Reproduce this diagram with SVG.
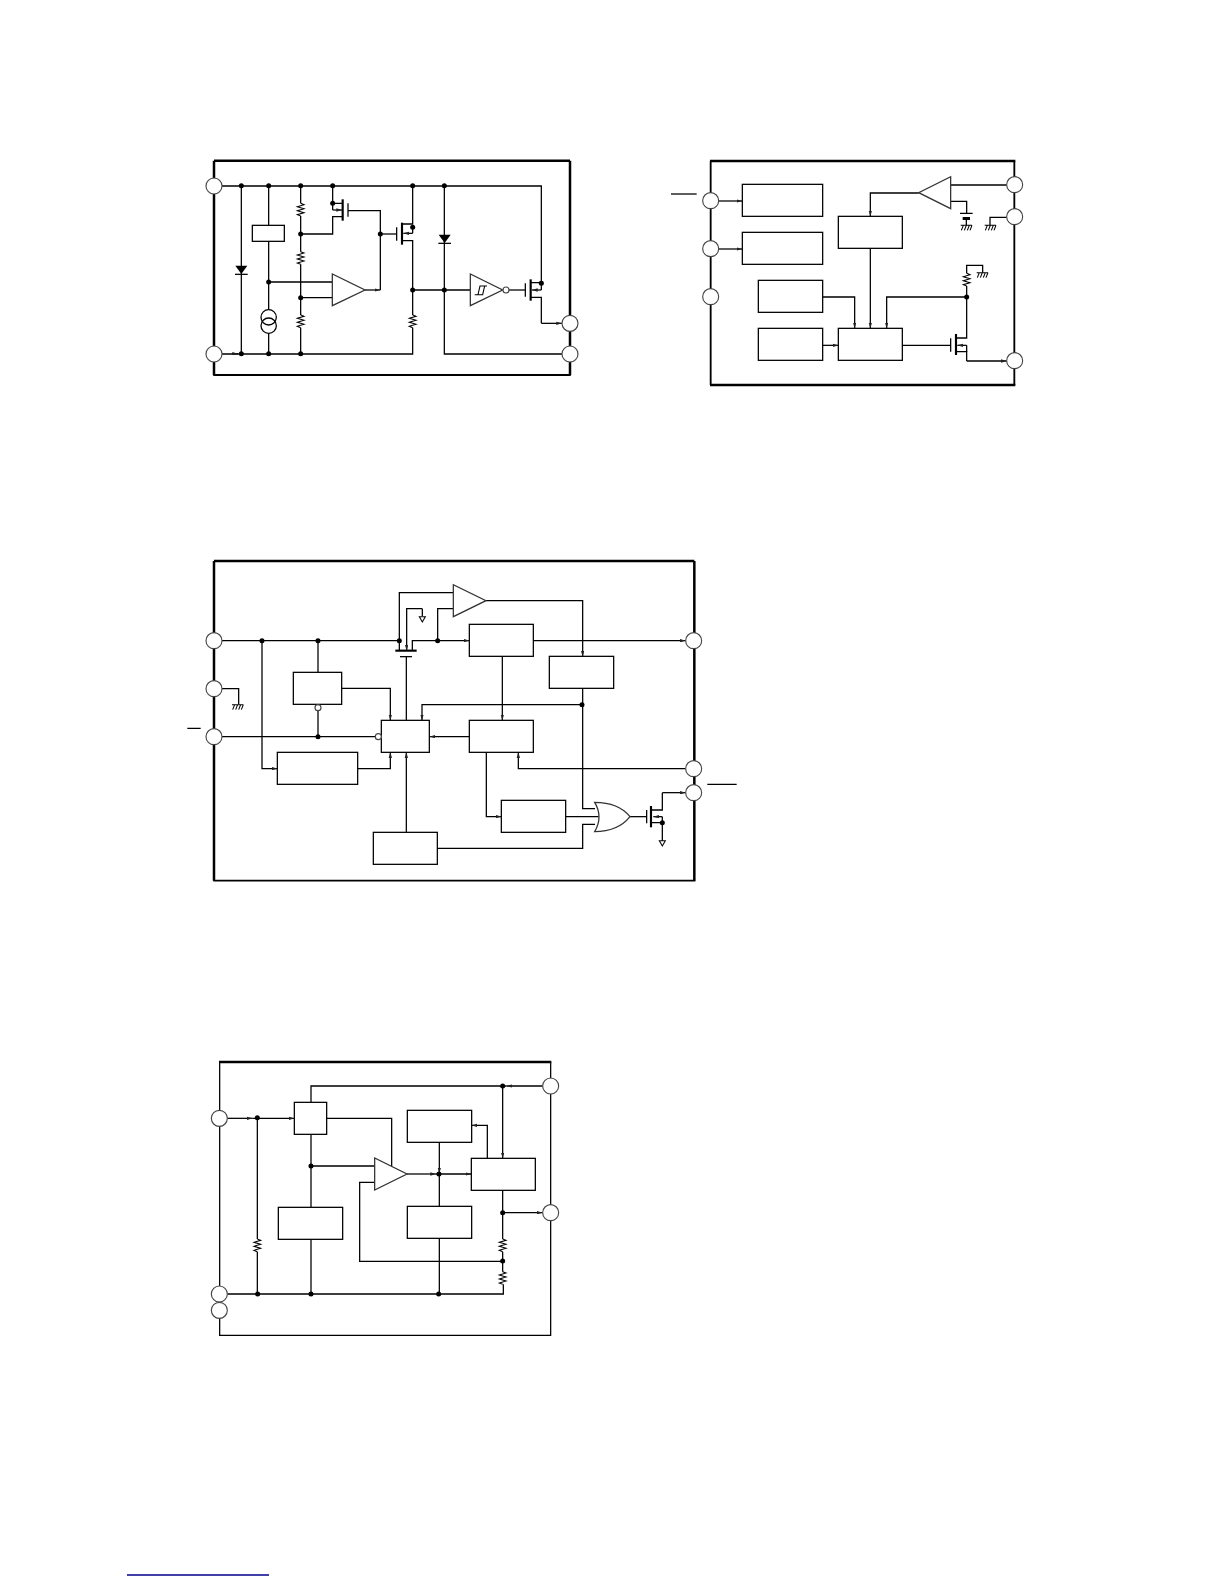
<svg xmlns="http://www.w3.org/2000/svg" width="1224" height="1584" viewBox="0 0 1224 1584">
<style>
.w{fill:none;stroke:#000;stroke-width:3.8;stroke-linejoin:miter}
.a{fill:none;stroke:#000;stroke-width:3.8;marker-end:url(#ah)}
.fr{fill:none;stroke:#000;stroke-width:5.5}
.t{fill:none;stroke:#000;stroke-width:7.5}
.b{fill:#fff;stroke:#000;stroke-width:3.8}
.amp{fill:#fff;stroke:#333;stroke-width:3.8}
.pin{fill:#fff;stroke:#444;stroke-width:3.4}
.d{fill:#000;stroke:none}
.th{fill:none;stroke:#000;stroke-width:6.5}
.r{fill:none;stroke:#000;stroke-width:3.2}
</style>
<defs>
<marker id="ah" viewBox="0 0 17 11" markerWidth="17" markerHeight="11" refX="17" refY="5.5" orient="auto" markerUnits="userSpaceOnUse"><path d="M0,0.5L17,5.5L0,10.5Z" fill="#222"/></marker>
<g id="res"><path class="r" d="M0,0L10,4L-10,10L10,16L-10,22L10,28L-10,34L0,38"/></g>
<g id="gnd"><path class="r" d="M-17,0H17M-15,15L-9,0M-6,15L0,0M3,15L9,0M11,15L17,0"/></g>
<g id="dgnd"><path class="r" d="M-9,0H9L0,16Z"/></g>
</defs>

<g id="diagram-1" transform="translate(200 150) scale(.33333)">
<g id="connectors-1">
<path class="w" d="M66,108H1024V400"/>
<path class="w" d="M66,612H638V533M638,495V272H606"/>
<path class="a" d="M96,611H114"/>
<path class="w" d="M124,108V612"/>
<path class="w" d="M206,108V226M206,274V480M206,550V612M206,396H397"/>
<path class="w" d="M302,108V160M302,198V305M302,343V495M302,533V612M302,252H398V200H428M302,443H397"/>
<path class="w" d="M398,108V160H428M398,160V180"/>
<path class="a" d="M398,180H426"/>
<path class="w" d="M444,182H541V420"/>
<path class="a" d="M495,420H541"/>
<path class="w" d="M541,252H590"/>
<path class="w" d="M638,108V222H606"/>
<path class="w" d="M638,232V250"/>
<path class="a" d="M638,250H610"/>
<path class="w" d="M638,420H810"/>
<path class="w" d="M733,108V612H1086"/>
<path class="w" d="M927,420H976"/>
<path class="w" d="M992,398H1024M1024,400V420"/>
<path class="a" d="M1024,420H996"/>
<path class="w" d="M992,442H1024V520"/>
<path class="a" d="M1024,520H1086"/>
</g>
<g id="frame-1"><path class="t" d="M42,32H1110M42,32V676M1110,32V676"/><path class="fr" d="M40,675H1112"/></g>
<g id="pin-1a"><circle class="pin" cx="42" cy="108" r="24"/></g>
<g id="pin-1b"><circle class="pin" cx="42" cy="612" r="24"/></g>
<g id="pin-1c"><circle class="pin" cx="1110" cy="520" r="24"/></g>
<g id="pin-1d"><circle class="pin" cx="1110" cy="612" r="24"/></g>
<g id="diode-1a"><path class="d" d="M106,347H142L124,372Z"/><path class="w" d="M105,373H143"/></g>
<g id="diode-1b"><path class="d" d="M716,254H752L734,279Z"/><path class="w" d="M715,280H753"/></g>
<g id="box-1"><rect class="b" x="157" y="226" width="96" height="48"/></g>
<g id="current-source"><circle class="w" cx="206" cy="502" r="23"/><circle class="w" cx="206" cy="527" r="23"/></g>
<g id="res-1a"><use href="#res" x="302" y="160"/></g>
<g id="res-1b"><use href="#res" x="302" y="305"/></g>
<g id="res-1c"><use href="#res" x="302" y="495"/></g>
<g id="res-1d"><use href="#res" x="638" y="495"/></g>
<g id="fet-1a"><path class="th" d="M428,148V212"/><path class="w" d="M444,160V200"/></g>
<g id="fet-1b"><path class="th" d="M606,218V284"/><path class="w" d="M590,232V272"/></g>
<g id="fet-1c"><path class="th" d="M992,388V452"/><path class="w" d="M976,400V440"/></g>
<g id="amp-1"><path class="amp" d="M397,372V467L495,420Z"/></g>
<g id="inverter-1"><path class="amp" d="M811,372V467L908,420Z"/><path class="r" d="M824,434H848L854,408H861M834,434L840,408H854"/><circle class="pin" cx="918" cy="420" r="9"/></g>
<g id="dots-1" class="d">
<circle cx="124" cy="107" r="7.5"/><circle cx="206" cy="107" r="7.5"/><circle cx="302" cy="107" r="7.5"/><circle cx="398" cy="107" r="7.5"/><circle cx="638" cy="107" r="7.5"/><circle cx="733" cy="107" r="7.5"/>
<circle cx="398" cy="160" r="7.5"/><circle cx="302" cy="252" r="7.5"/><circle cx="541" cy="252" r="7.5"/><circle cx="638" cy="232" r="7.5"/>
<circle cx="206" cy="396" r="7.5"/><circle cx="302" cy="443" r="7.5"/><circle cx="638" cy="420" r="7.5"/><circle cx="733" cy="420" r="7.5"/><circle cx="1024" cy="400" r="7.5"/>
<circle cx="124" cy="611" r="7.5"/><circle cx="206" cy="611" r="7.5"/><circle cx="302" cy="611" r="7.5"/>
</g>
</g>

<g id="diagram-2" transform="translate(660 150) scale(.33333)">
<g id="connectors-2">
<path class="w" d="M33,132H110"/>
<path class="a" d="M176,153H247"/>
<path class="a" d="M176,297H247"/>
<path class="a" d="M488,441H584V535"/>
<path class="a" d="M631,295V535"/>
<path class="a" d="M920,441H680V535"/>
<path class="a" d="M488,586H535"/>
<path class="w" d="M727,586H872"/>
<path class="w" d="M888,564H920V408M920,370V346H968V368"/>
<path class="w" d="M920,586V605"/>
<path class="a" d="M920,586H892"/>
<path class="w" d="M888,605H920V633"/>
<path class="a" d="M920,633H1040"/>
<path class="w" d="M872,105H1040"/>
<path class="a" d="M776,129H631V199"/>
<path class="w" d="M872,154H920V190M900,190H938M919,208V226"/>
<path class="w" d="M1040,202H990V226"/>
</g>
<g id="frame-2"><path class="t" d="M150,33H1066M150,705H1066"/><path class="fr" d="M152,33V705M1063,33V705"/></g>
<g id="pin-2a"><circle class="pin" cx="152" cy="152" r="24"/></g>
<g id="pin-2b"><circle class="pin" cx="152" cy="296" r="24"/></g>
<g id="pin-2c"><circle class="pin" cx="152" cy="440" r="24"/></g>
<g id="pin-2d"><circle class="pin" cx="1064" cy="104" r="24"/></g>
<g id="pin-2e"><circle class="pin" cx="1064" cy="200" r="24"/></g>
<g id="pin-2f"><circle class="pin" cx="1064" cy="632" r="24"/></g>
<g id="box-2a"><rect class="b" x="247" y="103" width="241" height="96"/></g>
<g id="box-2b"><rect class="b" x="247" y="247" width="241" height="96"/></g>
<g id="box-2c"><rect class="b" x="295" y="391" width="193" height="96"/></g>
<g id="box-2d"><rect class="b" x="295" y="535" width="193" height="96"/></g>
<g id="box-2e"><rect class="b" x="535" y="199" width="192" height="96"/></g>
<g id="box-2f"><rect class="b" x="535" y="535" width="192" height="96"/></g>
<g id="amp-2"><path class="amp" d="M872,80V176L776,128Z"/></g>
<g id="cap-2"><rect class="d" x="908" y="201" width="22" height="9"/><use href="#gnd" x="919" y="226"/></g>
<g id="gnd-2a"><use href="#gnd" x="991" y="226"/></g>
<g id="gnd-2b"><use href="#gnd" x="967" y="368"/></g>
<g id="res-2"><use href="#res" x="920" y="370"/></g>
<g id="fet-2"><path class="th" d="M888,552V615"/><path class="w" d="M872,565V605"/></g>
<g id="dots-2" class="d"><circle cx="920" cy="441" r="7.5"/></g>
</g>

<g id="diagram-3" transform="translate(180 550) scale(.33333)">
<g id="connectors-3">
<path class="w" d="M22,535H62M1582,703H1670"/>
<path class="w" d="M126,272H658V302M658,272V128H820"/>
<path class="a" d="M727,176H680V302"/>
<path class="w" d="M727,176V198"/>
<path class="a" d="M697,302V272H868"/>
<path class="w" d="M773,272V176H820"/>
<path class="a" d="M918,152H1208V320"/>
<path class="a" d="M1060,272H1517"/>
<path class="a" d="M1206,464H726V511"/>
<path class="w" d="M1208,415V776H1245"/>
<path class="a" d="M967,319V511"/>
<path class="a" d="M868,560H749"/>
<path class="a" d="M1517,656H1015V607"/>
<path class="a" d="M919,607V800H964"/>
<path class="w" d="M1157,800H1256"/>
<path class="w" d="M1350,800H1400"/>
<path class="w" d="M1413,780H1447V728"/>
<path class="a" d="M1447,728H1517"/>
<path class="a" d="M1447,800H1420"/>
<path class="w" d="M1447,800V872M1413,818H1447"/>
<path class="w" d="M126,560H586"/>
<path class="w" d="M414,272V367M414,482V560"/>
<path class="a" d="M246,272V656H292"/>
<path class="a" d="M533,656H631V607"/>
<path class="a" d="M485,415H631V511"/>
<path class="w" d="M679,320V511"/>
<path class="a" d="M679,847V607"/>
<path class="w" d="M772,895H1208V823H1245"/>
<path class="w" d="M126,416H176V463"/>
</g>
<g id="frame-3"><path class="t" d="M102,33H1543M102,33V992M1543,33V992"/><path class="fr" d="M100,992H1546"/></g>
<g id="pin-3a"><circle class="pin" cx="102" cy="272" r="24"/></g>
<g id="pin-3b"><circle class="pin" cx="102" cy="416" r="24"/></g>
<g id="pin-3c"><circle class="pin" cx="102" cy="560" r="24"/></g>
<g id="pin-3d"><circle class="pin" cx="1541" cy="272" r="24"/></g>
<g id="pin-3e"><circle class="pin" cx="1541" cy="656" r="24"/></g>
<g id="pin-3f"><circle class="pin" cx="1541" cy="728" r="24"/></g>
<g id="box-3a"><rect class="b" x="340" y="367" width="145" height="96"/><circle class="pin" cx="414" cy="473" r="9"/></g>
<g id="box-3b"><rect class="b" x="292" y="607" width="241" height="96"/></g>
<g id="box-3c"><rect class="b" x="604" y="511" width="144" height="96"/><circle class="pin" cx="595" cy="560" r="9"/></g>
<g id="box-3d"><rect class="b" x="580" y="847" width="192" height="96"/></g>
<g id="box-3e"><rect class="b" x="868" y="223" width="192" height="96"/></g>
<g id="box-3f"><rect class="b" x="1108" y="319" width="193" height="96"/></g>
<g id="box-3g"><rect class="b" x="868" y="511" width="192" height="96"/></g>
<g id="box-3h"><rect class="b" x="964" y="751" width="193" height="96"/></g>
<g id="amp-3"><path class="amp" d="M820,104V200L918,152Z"/></g>
<g id="or-3"><path class="amp" d="M1244,757Q1270,800 1244,845C1300,845 1330,825 1350,800C1330,775 1300,757 1244,757Z"/></g>
<g id="pass-fet"><path class="th" d="M646,302H710"/><path class="w" d="M660,320H696"/></g>
<g id="fet-3"><path class="th" d="M1413,768V832"/><path class="w" d="M1400,780V820"/></g>
<g id="gnd-3a"><use href="#gnd" x="173" y="464"/></g>
<g id="gnd-3b"><use href="#dgnd" x="727" y="200"/></g>
<g id="gnd-3c"><use href="#dgnd" x="1447" y="872"/></g>
<g id="dots-3" class="d">
<circle cx="246" cy="272" r="7.5"/><circle cx="414" cy="272" r="7.5"/><circle cx="658" cy="272" r="7.5"/><circle cx="773" cy="272" r="7.5"/><circle cx="414" cy="560" r="7.5"/><circle cx="1206" cy="464" r="7.5"/><circle cx="1447" cy="818" r="7.5"/>
</g>
</g>

<g id="diagram-4" transform="translate(200 1050) scale(.33333)">
<g id="connectors-4">
<path class="a" d="M82,205H158"/>
<path class="a" d="M158,205H283"/>
<path class="w" d="M172,203V567M172,605V732"/>
<path class="w" d="M82,732H910V703M908,665V605M908,567V421"/>
<path class="a" d="M908,488H1028"/>
<path class="w" d="M333,253V472M333,348H524M333,568V732"/>
<path class="w" d="M380,205H575V349"/>
<path class="a" d="M621,372H708"/>
<path class="a" d="M708,372H814"/>
<path class="a" d="M718,277V370"/>
<path class="w" d="M718,372V469M718,565V732"/>
<path class="w" d="M524,397H479V634H908"/>
<path class="a" d="M1028,108H920"/>
<path class="w" d="M920,108H333V157"/>
<path class="a" d="M908,108V325"/>
<path class="a" d="M862,325V226H815"/>
</g>
<g id="frame-4"><path class="t" d="M57,36H1054"/><path class="w" d="M59,36V856H1052V36"/></g>
<g id="pin-4a"><circle class="pin" cx="58" cy="205" r="24"/></g>
<g id="pin-4b"><circle class="pin" cx="58" cy="732" r="24"/></g>
<g id="pin-4c"><circle class="pin" cx="58" cy="781" r="24"/></g>
<g id="pin-4d"><circle class="pin" cx="1052" cy="108" r="24"/></g>
<g id="pin-4e"><circle class="pin" cx="1052" cy="488" r="24"/></g>
<g id="box-4a"><rect class="b" x="283" y="157" width="97" height="96"/></g>
<g id="box-4b"><rect class="b" x="622" y="181" width="193" height="96"/></g>
<g id="box-4c"><rect class="b" x="814" y="325" width="192" height="96"/></g>
<g id="box-4d"><rect class="b" x="235" y="472" width="193" height="96"/></g>
<g id="box-4e"><rect class="b" x="622" y="469" width="193" height="96"/></g>
<g id="amp-4"><path class="amp" d="M524,324V420L621,372Z"/></g>
<g id="res-4a"><use href="#res" x="172" y="567"/></g>
<g id="res-4b"><use href="#res" x="908" y="567"/></g>
<g id="res-4c"><use href="#res" x="908" y="665"/></g>
<g id="dots-4" class="d">
<circle cx="172" cy="203" r="7.5"/><circle cx="173" cy="732" r="7.5"/><circle cx="333" cy="732" r="7.5"/><circle cx="716" cy="732" r="7.5"/><circle cx="333" cy="348" r="7.5"/><circle cx="717" cy="372" r="7.5"/><circle cx="908" cy="108" r="7.5"/><circle cx="908" cy="488" r="7.5"/><circle cx="908" cy="633" r="7.5"/>
</g>
</g>

<path d="M127,1575H269" fill="none" stroke="#00008b" stroke-width="1.6"/>
</svg>
